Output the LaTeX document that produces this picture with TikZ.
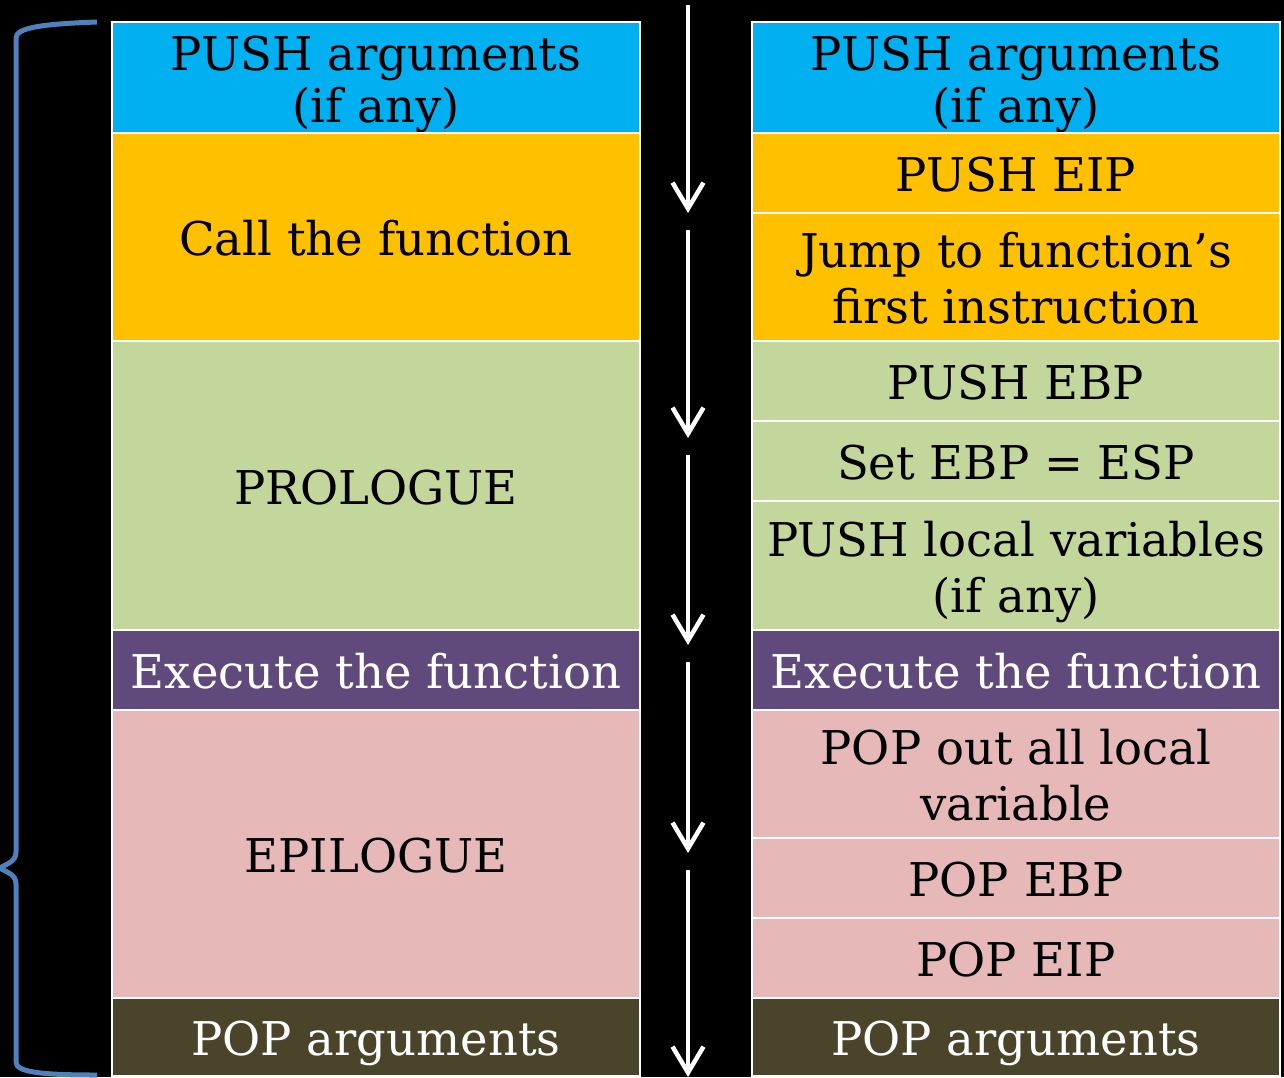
\documentclass[tikz,border=0pt]{standalone}
\usepackage{fontspec}
\setmainfont{DejaVu Serif}
\usetikzlibrary{arrows.meta}
\definecolor{cblue}{HTML}{00B0F0}
\definecolor{corange}{HTML}{FFC000}
\definecolor{cgreen}{HTML}{C3D69B}
\definecolor{cpurple}{HTML}{604A7B}
\definecolor{cpink}{HTML}{E6B9B8}
\definecolor{cdark}{HTML}{4A452A}
\definecolor{cbrace}{HTML}{4F81BD}
% one text line with fixed height 45pt and depth 8pt
\newcommand{\bxl}[1]{\rule[-8pt]{0pt}{53pt}\smash{#1}}
\tikzset{
  box/.style={draw=white, line width=2pt, minimum width=528pt, inner sep=0pt, outer sep=0pt, align=center, text=black,
    font=\fontsize{46.5}{56}\selectfont},
  flow/.style={draw=white, line width=4.5pt, -{Straight Barb[length=26pt,width=31pt,line width=4.5pt]}},
}
\newcommand{\bx}[7][black]{% [text colour] name, x, ytop, ybottom, colour, text
  \pgfmathsetmacro{\bxh}{#5-#4}%
  \node[box, fill=#6, text=#1, minimum height=\bxh pt, anchor=north] (#2) at (#3,#4) {#7};}
\begin{document}
\lineskiplimit=-1000pt
\begin{tikzpicture}[x=1pt,y=-1pt]
\fill[black] (0,0) rectangle (1284,1077);
\useasboundingbox (0,0) rectangle (1284,1077);
% left column
\bx{l1}{376}{22}{133}{cblue}{\bxl{PUSH arguments}\\[-4pt]\bxl{(if any)}}
\bx{l2}{376}{133}{341}{corange}{\bxl{Call the function}}
\bx{l3}{376}{341}{630}{cgreen}{\bxl{PROLOGUE}}
\bx[white]{l4}{376}{630}{710}{cpurple}{\bxl{Execute the function}}
\bx{l5}{376}{710}{998}{cpink}{\bxl{EPILOGUE}}
\bx[white]{l6}{376}{998}{1076}{cdark}{\bxl{POP arguments}}
% right column
\bx{r1}{1016}{22}{133}{cblue}{\bxl{PUSH arguments}\\[-4pt]\bxl{(if any)}}
\bx{r2}{1016}{133}{213}{corange}{\bxl{PUSH EIP}}
\bx{r3}{1016}{213}{341}{corange}{\bxl{Jump to function’s}\\\bxl{first instruction}}
\bx{r4}{1016}{341}{421}{cgreen}{\bxl{PUSH EBP}}
\bx{r5}{1016}{421}{501}{cgreen}{\bxl{Set EBP = ESP}}
\bx{r6}{1016}{501}{630}{cgreen}{\bxl{PUSH local variables}\\\bxl{(if any)}}
\bx[white]{r7}{1016}{630}{710}{cpurple}{\bxl{Execute the function}}
\bx{r8}{1016}{710}{838}{cpink}{\bxl{POP out all local}\\\bxl{variable}}
\bx{r9}{1016}{838}{918}{cpink}{\bxl{POP EBP}}
\bx{r10}{1016}{918}{998}{cpink}{\bxl{POP EIP}}
\bx[white]{r11}{1016}{998}{1076}{cdark}{\bxl{POP arguments}}
% arrows
\coordinate (a0) at (688,5);
\coordinate (a1) at (688,213);
\coordinate (b0) at (688,230);
\coordinate (b1) at (688,438);
\coordinate (c0) at (688,455);
\coordinate (c1) at (688,645);
\coordinate (d0) at (688,662);
\coordinate (d1) at (688,853);
\coordinate (e0) at (688,870);
\coordinate (e1) at (688,1077);
\draw[flow] (a0) -- (a1);
\draw[flow] (b0) -- (b1);
\draw[flow] (c0) -- (c1);
\draw[flow] (d0) -- (d1);
\draw[flow] (e0) -- (e1);
% brace
\draw[cbrace, line width=5pt]
  (97,22) .. controls (40,24) and (16,28) .. (16,38)
  -- (16,852) .. controls (16,862) and (6,864) .. (0,868)
  .. controls (6,872) and (16,874) .. (16,884)
  -- (16,1062) .. controls (16,1072) and (40,1075) .. (97,1075);
\end{tikzpicture}
\end{document}
